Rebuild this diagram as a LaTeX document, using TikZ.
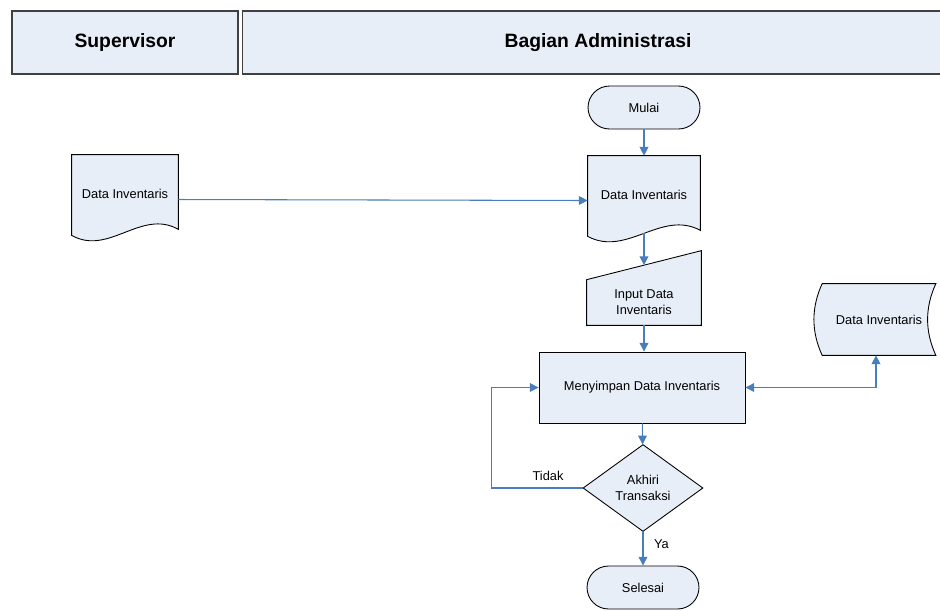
\documentclass[tikz,border=0pt]{standalone}
\usepackage{fontspec}
\setmainfont{Liberation Sans}
\usetikzlibrary{shapes.geometric,arrows.meta,calc,backgrounds,shadows}
\definecolor{boxfill}{HTML}{E8EEF8}
\definecolor{flowblue}{HTML}{4A7EBB}

\begin{document}
\begin{tikzpicture}[x=0.02cm,y=-0.02cm,
  every node/.style={font=\fontsize{7.3}{9}\selectfont, inner sep=1pt},
  lane/.style={draw=black!75, fill=boxfill, line width=.6pt, minimum height=1.26cm,
    font=\fontsize{11}{13}\selectfont\bfseries,
    drop shadow={shadow xshift=.8pt, shadow yshift=-.8pt, fill=black!50, opacity=1}},
  term/.style={draw, fill=boxfill, rounded corners=.43cm, minimum width=2.24cm, minimum height=.86cm, line width=.5pt},
  proc/.style={draw, fill=boxfill, minimum width=4.12cm, minimum height=1.42cm, line width=.5pt},
  dec/.style={diamond, draw, fill=boxfill, minimum width=2.4cm, minimum height=1.74cm, inner sep=0pt, align=center, line width=.5pt},
  shp/.style={draw, fill=boxfill, line width=.5pt},
  flow/.style={draw=flowblue, line width=.6pt, -{Triangle[length=5pt,width=5pt]}}]
\useasboundingbox (0,0) rectangle (940,610);
\clip (0,0) rectangle (940,610);

% lane headers
\node[lane, minimum width=4.52cm] (sup) at (125,42.5) {Supervisor};
\node[lane, minimum width=14.22cm] (adm) at (598,42.5) {Bagian Administrasi};

% shapes
\node[term] (mulai) at (644,107.5) {Mulai};
\node[minimum width=2.12cm, minimum height=1.54cm] (doc1) at (125,193.5) {Data Inventaris};
\node[minimum width=2.24cm, minimum height=1.54cm] (doc2) at (644,194.5) {Data Inventaris};
\node[minimum width=2.28cm, minimum height=.9cm, align=center] (inp) at (644,302.5) {Input Data\\Inventaris};
\node[proc] (simpan) at (642,387.5) {Menyimpan Data Inventaris};
\node[minimum width=2.26cm, minimum height=1.42cm] (store) at (879,319.5) {Data Inventaris};
\node[dec] (akhir) at (643,488) {Akhiri\\Transaksi};
\node[term] (selesai) at (643,587.5) {Selesai};

\begin{scope}[on background layer]
\draw[shp] (doc1.north west) -- (doc1.north east) -- ($(doc1.south east)+(0,-3)$)
  .. controls ($(doc1.south east)+(-37,-24)$) and ($(doc1.south west)+(37,24)$) .. ($(doc1.south west)+(0,3)$) -- cycle;
\draw[shp] (doc2.north west) -- (doc2.north east) -- ($(doc2.south east)+(0,-3)$)
  .. controls ($(doc2.south east)+(-39,-24)$) and ($(doc2.south west)+(39,24)$) .. ($(doc2.south west)+(0,3)$) -- cycle;
\draw[shp] (inp.north west) -- ($(inp.north east)+(0,-29)$) -- (inp.south east) -- (inp.south west) -- cycle;
\draw[shp] (store.north west) -- (store.north east)
  .. controls ($(store.north east)+(-11,24)$) and ($(store.south east)+(-11,-24)$) .. (store.south east)
  -- (store.south west)
  .. controls ($(store.south west)+(-11,-24)$) and ($(store.north west)+(-11,24)$) .. (store.north west) -- cycle;
\end{scope}

% connectors
\draw[flow] (mulai) -- (doc2);
\draw[flow] ($(doc1.east)+(0,6)$) -- ($(doc2.west)+(0,6)$);
\draw[flow] (doc2.south) -- ($(inp.north)+(0,-14.5)$);
\draw[flow] (inp.south) -- (inp.south |- simpan.north);
\draw[flow, {Triangle[length=5pt,width=5pt]}-{Triangle[length=5pt,width=5pt]}] (simpan.east) -| ($(store.south)+(-3,0)$);
\draw[flow] (simpan) -- (akhir);
\draw[flow] (akhir.west) -- node[above=3pt, pos=.38] {Tidak} ++(-91,0) |- (simpan.west);
\draw[flow] (akhir) -- node[right=5pt, pos=.35] {Ya} (selesai);
\end{tikzpicture}
\end{document}
